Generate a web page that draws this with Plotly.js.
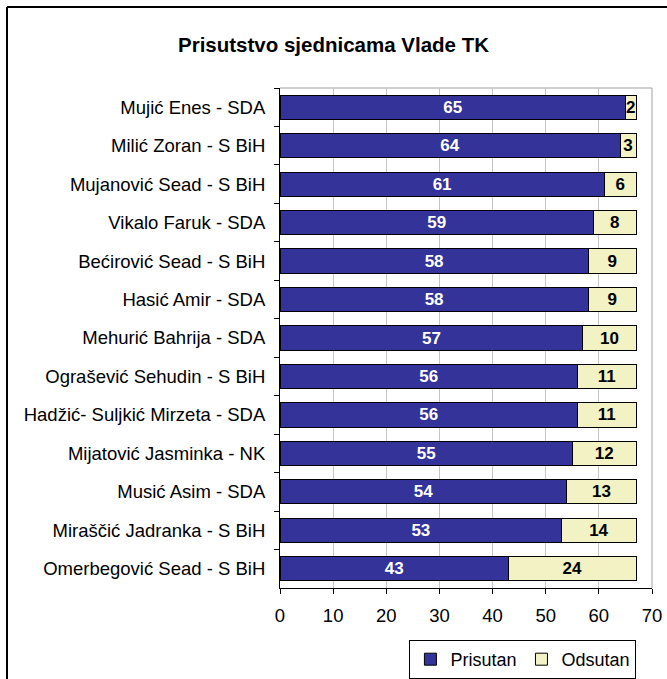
<!DOCTYPE html>
<html>
<head>
<meta charset="utf-8">
<script src="https://cdn.plot.ly/plotly-3.0.1.min.js"></script>
<style>html,body{margin:0;padding:0;background:#fff;overflow:hidden;}#chart{width:667px;height:679px;}</style>
</head>
<body>
<div id="chart"></div>
<script>
const categories = [
  "Mujić Enes - SDA",
  "Milić Zoran - S BiH",
  "Mujanović Sead - S BiH",
  "Vikalo Faruk - SDA",
  "Bećirović Sead - S BiH",
  "Hasić Amir - SDA",
  "Mehurić Bahrija - SDA",
  "Ograšević Sehudin - S BiH",
  "Hadžić- Suljkić Mirzeta - SDA",
  "Mijatović Jasminka - NK",
  "Musić Asim - SDA",
  "Miraščić Jadranka - S BiH",
  "Omerbegović Sead - S BiH"
];
const prisutan = [65, 64, 61, 59, 58, 58, 57, 56, 56, 55, 54, 53, 43];
const odsutan  = [2, 3, 6, 8, 9, 9, 10, 11, 11, 12, 13, 14, 24];
const xTicks = [0, 10, 20, 30, 40, 50, 60, 70];

const FONT = '"Liberation Sans", Arial, sans-serif';
const H = 679, PAPER_H = 679 - 88; // margin.b = 0
const PLOT_BOTTOM = 588;
const domLow = (H - PLOT_BOTTOM) / PAPER_H;

const traces = [
  {
    type: 'bar', orientation: 'h', name: 'Prisutan',
    y: categories, x: prisutan,
    text: prisutan.map(String), textposition: 'inside', insidetextanchor: 'middle',
    textangle: 0, constraintext: 'none',
    insidetextfont: {family: FONT, size: 17, color: '#ffffff', weight: 'bold'},
    marker: {color: '#333399', line: {color: '#000000', width: 1}},
    hoverinfo: 'x+y'
  },
  {
    type: 'bar', orientation: 'h', name: 'Odsutan',
    y: categories, x: odsutan,
    text: odsutan.map(String), textposition: 'inside', insidetextanchor: 'middle',
    textangle: 0, constraintext: 'none',
    insidetextfont: {family: FONT, size: 17, color: '#000000', weight: 'bold'},
    marker: {color: '#F2F2C4', line: {color: '#000000', width: 1}},
    hoverinfo: 'x+y'
  }
];

const layout = {
  width: 667, height: H,
  margin: {l: 280, r: 15, t: 88, b: 0},
  paper_bgcolor: '#ffffff', plot_bgcolor: '#ffffff',
  barmode: 'stack', bargap: 0.37,
  font: {family: FONT, size: 18, color: '#000000'},
  title: {
    text: 'Prisutstvo sjednicama Vlade TK',
    font: {family: FONT, size: 20.5, color: '#000000', weight: 'bold'},
    xref: 'container', x: 0.5, xanchor: 'center',
    yref: 'container', y: 1 - 45/H, yanchor: 'middle'
  },
  xaxis: {
    range: [0, 70], tickvals: xTicks, ticktext: xTicks.map(String),
    showgrid: true, gridcolor: '#c4c4c4', gridwidth: 1,
    zeroline: false, showline: true, linecolor: '#000000', linewidth: 1,
    ticks: 'outside', ticklen: 5, tickcolor: '#000000', ticklabelstandoff: 6,
    tickfont: {family: FONT, size: 18.5, color: '#000000'}, fixedrange: true,
    automargin: false
  },
  yaxis: {
    type: 'category', categoryorder: 'array', categoryarray: categories,
    autorange: 'reversed', domain: [domLow, 1],
    showgrid: false, zeroline: false, showline: true, linecolor: '#000000', linewidth: 1,
    ticks: 'outside', ticklen: 5, tickcolor: '#000000', tickson: 'boundaries',
    ticklabelstandoff: 10,
    tickfont: {family: FONT, size: 18.5, color: '#000000'}, fixedrange: true,
    automargin: false
  },
  legend: {
    orientation: 'h', x: 0.653, xanchor: 'center', y: 0, yanchor: 'bottom',
    bordercolor: '#000000', borderwidth: 1, bgcolor: '#ffffff',
    font: {family: FONT, size: 18, color: '#000000'},
    itemwidth: 30, traceorder: 'normal'
  },
  shapes: [
    {type: 'line', xref: 'x domain', yref: 'y domain', x0: 0, x1: 1, y0: 1, y1: 1,
     line: {color: '#a0a0a0', width: 1}, layer: 'below'},
    {type: 'line', xref: 'x domain', yref: 'y domain', x0: 1, x1: 1, y0: 0, y1: 1,
     line: {color: '#a0a0a0', width: 1}, layer: 'below'},
    {type: 'line', xref: 'paper', yref: 'paper',
     x0: (7 - 280) / 372, x1: (7 - 280) / 372,
     y0: -0.05, y1: 1 + (88 - 7) / PAPER_H,
     line: {color: '#000000', width: 2}},
    {type: 'line', xref: 'paper', yref: 'paper',
     x0: (7 - 280) / 372, x1: (700 - 280) / 372,
     y0: 1 + (88 - 7) / PAPER_H, y1: 1 + (88 - 7) / PAPER_H,
     line: {color: '#000000', width: 2}}
  ],
  showlegend: true
};

Plotly.newPlot('chart', traces, layout, {displayModeBar: false, staticPlot: true});
</script>
</body>
</html>
